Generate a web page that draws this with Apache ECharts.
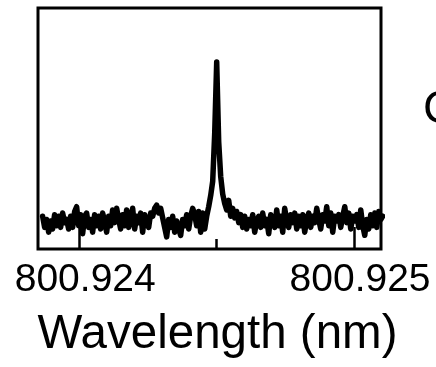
<!DOCTYPE html>
<html>
<head>
<meta charset="utf-8">
<script src="https://cdn.jsdelivr.net/npm/echarts@6/dist/echarts.min.js"></script>
<style>html,body{margin:0;padding:0;background:#fff;}#c{width:436px;height:367px;}</style>
</head>
<body>
<div id="c"></div>
<script>
// Sampling grid of the spectrum (nm)
const wavelengthStart = 800.9238668;
const wavelengthStep = 0.00000728;
// Intensity (arb. units)
const intensity = [
  0.03,-0.04,0.01,-0.07,0.00,-0.05,0.04,-0.03,0.03,-0.04,0.05,-0.01,0.01,-0.05,0.03,-0.04,0.06,0.09,
  -0.03,0.04,-0.08,0.03,0.05,-0.04,0.01,-0.07,0.04,-0.03,0.03,-0.05,0.05,0.00,-0.07,0.03,-0.03,0.07,-0.01,0.08,
  0.01,-0.05,0.04,-0.03,0.07,-0.04,0.01,0.08,-0.05,0.03,-0.01,0.05,-0.07,0.04,0.00,-0.04,0.05,0.03,0.08,0.10,0.05,0.08,0.02,
  -0.04,-0.10,0.01,-0.04,0.03,-0.07,0.00,-0.05,-0.09,0.01,-0.03,0.04,-0.05,0.03,0.08,0.04,-0.03,0.06,-0.07,0.05,
  -0.05,0.03,0.09,0.16,0.25,0.55,1.00,0.50,0.28,0.17,0.11,0.07,0.13,0.03,
  0.08,0.02,0.06,-0.01,0.04,-0.04,0.03,-0.05,0.01,-0.03,0.04,-0.07,0.00,0.03,-0.04,0.05,-0.03,0.01,-0.08,0.04,0.00,-0.04,0.07,-0.03,0.03,-0.07,0.08,0.00,-0.04,0.04,-0.01,
  0.05,-0.05,0.03,-0.03,0.04,-0.07,0.01,0.05,-0.04,0.03,-0.01,0.08,0.01,-0.05,0.04,0.00,0.09,-0.03,0.05,-0.07,0.03,0.00,0.04,-0.04,0.03,0.09,-0.01,0.05,-0.05,0.03,0.00,0.04,-0.04,0.07,-0.03,-0.09,0.01,-0.05,0.04,-0.03,0.05,-0.04,0.06,0.01,0.03
];
const majorTicks = [800.924, 800.925];
const minorTicks = [800.9245];
const xMin = 800.92385, xMax = 800.925098;
const yMin = -0.176, yMax = 1.34;
const xName = 'Wavelength (nm)';
const sideText = 'C';

const data = intensity.map((v, i) => [wavelengthStart + i * wavelengthStep, v]);
const font = 'Liberation Sans, Arial, sans-serif';
const chart = echarts.init(document.getElementById('c'), null, {renderer: 'canvas'});
chart.setOption({
  animation: false,
  backgroundColor: '#fff',
  grid: {left: 38, top: 8, right: 55, bottom: 118, show: true, borderColor: '#000', borderWidth: 3, backgroundColor: 'transparent'},
  xAxis: [{
    type: 'value', min: xMin, max: xMax, position: 'bottom',
    axisLine: {show: false, onZero: false}, splitLine: {show: false},
    axisTick: {show: true, inside: true, length: 22, customValues: majorTicks, lineStyle: {color: '#000', width: 2.5}},
    axisLabel: {show: true, customValues: majorTicks, formatter: v => v.toFixed(3), color: '#000', fontSize: 39, fontFamily: font, margin: 12, padding: [0, 0, 0, 12]},
    name: xName, nameLocation: 'middle', nameGap: 62,
    nameTextStyle: {color: '#000', fontSize: 47.5, fontFamily: font, padding: [0, 0, 0, 16]}
  }, {
    type: 'value', min: xMin, max: xMax, position: 'bottom',
    axisLine: {show: false, onZero: false}, splitLine: {show: false},
    axisTick: {show: true, inside: true, length: 10, customValues: minorTicks, lineStyle: {color: '#000', width: 2.5}},
    axisLabel: {show: false}
  }],
  yAxis: {type: 'value', min: yMin, max: yMax, show: false},
  graphic: [{type: 'text', left: 423, top: 87, style: {text: sideText, fill: '#000', font: '46px ' + font}}],
  series: [{
    type: 'line', xAxisIndex: 0, data: data, showSymbol: false, symbol: 'none',
    lineStyle: {color: '#000', width: 5.5, join: 'round', cap: 'round'}
  }]
});
</script>
</body>
</html>
